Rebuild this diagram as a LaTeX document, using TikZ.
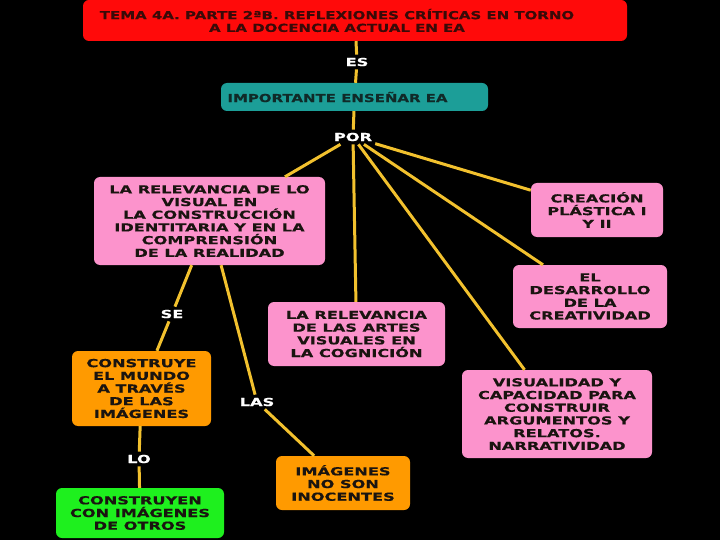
\documentclass[tikz,border=0pt]{standalone}
\usepackage{fontspec}
\setmainfont{DejaVu Sans}
\newfontfamily\boxfont{DejaVu Sans}[FakeStretch=1.47,BoldFeatures={FakeBold=0.6}]
\newfontfamily\titfont{DejaVu Sans}[FakeStretch=1.36,BoldFeatures={FakeBold=0.6}]
\definecolor{bg}{HTML}{000000}
\definecolor{titred}{HTML}{FF0A0A}
\definecolor{tealc}{HTML}{1C9E98}
\definecolor{pinkc}{HTML}{FC93CC}
\definecolor{orangec}{HTML}{FF9A00}
\definecolor{greenc}{HTML}{1EF01E}
\definecolor{linec}{HTML}{F2C12E}
\definecolor{txt}{HTML}{1A1410}
\definecolor{tittxt}{HTML}{3A0A08}
\definecolor{tealtxt}{HTML}{102A28}
\begin{document}
\begin{tikzpicture}[x=1pt,y=-1pt,
  box/.style={rounded corners=6pt, align=center, text=txt, inner sep=0pt,
    font=\boxfont\bfseries\fontsize{11}{12.7}\selectfont},
  tfont/.style={font=\titfont\bfseries\fontsize{11}{12.7}\selectfont},
  lab/.style={text=white, inner sep=3pt, font=\boxfont\bfseries\fontsize{11}{12.7}\selectfont},
  conn/.style={draw=linec, line width=3pt}]
\fill[bg] (0,0) rectangle (720,540);
\useasboundingbox (0,0) rectangle (720,540);

\node[box, fill=titred, minimum width=544pt, minimum height=41pt,
  label={[tfont, text=tittxt, align=center, xshift=-18pt]center:TEMA 4A. PARTE 2ªB. REFLEXIONES CRÍTICAS EN TORNO\\A LA DOCENCIA ACTUAL EN EA}]
  (title) at (355,20.5) {};
\node[box, fill=tealc, minimum width=267pt, minimum height=28pt,
  label={[tfont, text=tealtxt, xshift=-17pt]center:IMPORTANTE ENSEÑAR EA}]
  (teal) at (354.5,97) {};
\node[box, fill=pinkc, minimum width=231pt, minimum height=88pt] (pink1) at (209.5,221)
  {LA RELEVANCIA DE LO\\VISUAL EN\\LA CONSTRUCCIÓN\\IDENTITARIA Y EN LA\\COMPRENSIÓN\\DE LA REALIDAD};
\node[box, fill=pinkc, minimum width=132pt, minimum height=54pt] (creacion) at (597,210)
  {CREACIÓN\\PLÁSTICA I\\Y II};
\node[box, fill=pinkc, minimum width=154pt, minimum height=63pt] (desarrollo) at (590,296.5)
  {EL\\DESARROLLO\\DE LA\\CREATIVIDAD};
\node[box, fill=pinkc, minimum width=177pt, minimum height=64pt] (artes) at (356.5,334)
  {LA RELEVANCIA\\DE LAS ARTES\\VISUALES EN\\LA COGNICIÓN};
\node[box, fill=pinkc, minimum width=190pt, minimum height=88pt] (visual) at (557,414)
  {VISUALIDAD Y\\CAPACIDAD PARA\\CONSTRUIR\\ARGUMENTOS Y\\RELATOS.\\NARRATIVIDAD};
\node[box, fill=orangec, minimum width=139pt, minimum height=75pt] (construye) at (141.5,388.5)
  {CONSTRUYE\\EL MUNDO\\A TRAVÉS\\DE LAS\\IMÁGENES};
\node[box, fill=orangec, minimum width=134pt, minimum height=54pt] (inocentes) at (343,483)
  {IMÁGENES\\NO SON\\INOCENTES};
\node[box, fill=greenc, minimum width=168pt, minimum height=50pt] (construyen) at (140,513)
  {CONSTRUYEN\\CON IMÁGENES\\DE OTROS};

\node[lab] (es) at (357,62) {ES};
\node[lab] (por) at (353,137) {POR};
\node[lab] (se) at (172,314) {SE};
\node[lab] (las) at (257,402) {LAS};
\node[lab] (lo) at (139,459) {LO};

\draw[conn] (title) -- (es);
\draw[conn] (es) -- (teal);
\draw[conn] (teal) -- (por);
\draw[conn] (por) -- (pink1);
\draw[conn] (por) -- (artes);
\draw[conn] (por) -- (visual);
\draw[conn] (por) -- (desarrollo);
\draw[conn] (por) -- (creacion);
\draw[conn] (pink1) -- (se);
\draw[conn] (se) -- (construye);
\draw[conn] (pink1) -- (las);
\draw[conn] (las) -- (inocentes);
\draw[conn] (construye) -- (lo);
\draw[conn] (lo) -- (construyen);
\end{tikzpicture}
\end{document}
